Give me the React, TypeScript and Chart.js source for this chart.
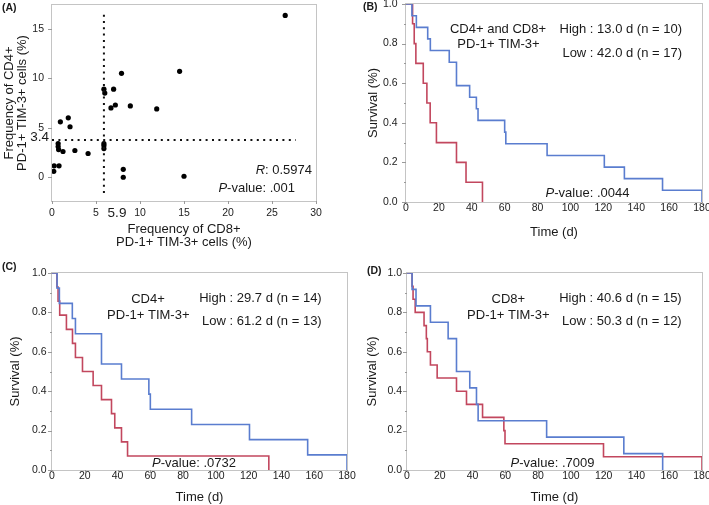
import React, { useEffect, useRef } from 'react';
import { Chart, registerables } from 'chart.js';

Chart.register(...registerables);

const FONT = "'Liberation Sans', Arial, Helvetica, sans-serif";
Chart.defaults.font.family = FONT;

const BLUE = '#5a7dcf';
const RED = '#c2475e';
const FRAME = '#c4c4c4';
const TICKC = '#9a9a9a';
const TXT = '#1a1a1a';
const TICK_SIZE = 10.5;

// ---------- Panel A: scatter ----------
const cd8Values = [26.5, 14.5, 7.9, 5.9, 6.0, 7.0, 6.7, 7.2, 8.9, 11.9, 0.95, 1.85, 2.05, 0.7, 0.7, 0.75, 1.25, 2.6, 4.1, 5.9, 5.9, 5.9, 0.25, 0.8, 0.2, 8.1, 8.1, 15.0];
const cd4Values = [16.35, 10.7, 10.5, 8.9, 8.5, 8.9, 7.0, 7.3, 7.2, 6.9, 5.6, 6.0, 5.1, 3.4, 3.1, 2.8, 2.6, 2.7, 2.4, 3.4, 3.2, 2.9, 1.15, 1.15, 0.6, 0.8, 0.0, 0.1];
const cd8Cutoff = 5.9;
const cd4CutoffLine = 3.75;
const cd8CutoffLabel = '5.9';
const cd4CutoffLabel = '3.4';
const vLineRange = [-1.6, 16.6];
const hLineRange = [0, 27.7];
const scatterXTicks = [0, 5, 10, 15, 20, 25, 30];
const scatterYTicks = [0, 5, 10, 15];
const scatterXRange = [0, 30];
const scatterYRange = [-2.4, 17.4];

// ---------- Kaplan-Meier panels ----------
const timeTicks = [0, 20, 40, 60, 80, 100, 120, 140, 160, 180];
const survMajor = [0, 0.2, 0.4, 0.6, 0.8, 1.0];
const survMinor = [0.1, 0.3, 0.5, 0.7, 0.9];

// (B) CD4+ and CD8+
const bHighTime = [0, 4, 5, 6, 10.5, 12.7, 14.7, 18.5, 30.7, 36.5, 46.5];
const bHighSurv = [1, 0.9, 0.8, 0.7, 0.6, 0.5, 0.4, 0.3, 0.2, 0.1, 0];
const bLowTime = [0, 3.6, 6.3, 13.2, 14.8, 26.3, 30.7, 38.7, 42.8, 43.8, 60, 60.7, 85.8, 120.6, 132.8, 156, 180];
const bLowSurv = [1, 0.941, 0.882, 0.824, 0.765, 0.706, 0.588, 0.529, 0.471, 0.412, 0.353, 0.294, 0.235, 0.176, 0.118, 0.059, 0];

// (C) CD4+
const cHighTime = [0, 3, 3.7, 4.7, 8.8, 12.5, 14.3, 18.6, 25.1, 30.2, 36.3, 38.3, 42.4, 46.1, 132.3];
const cHighSurv = [1, 0.929, 0.857, 0.786, 0.714, 0.643, 0.571, 0.5, 0.429, 0.357, 0.286, 0.214, 0.143, 0.071, 0];
const cLowTime = [0, 3.1, 4.5, 12.4, 14.3, 30.2, 42.4, 59.1, 60, 85.2, 120.5, 156, 180];
const cLowSurv = [1, 0.923, 0.846, 0.769, 0.692, 0.538, 0.462, 0.385, 0.308, 0.231, 0.154, 0.077, 0];

// (D) CD8+
const dHighTime = [0, 3.1, 3.7, 5, 10.4, 11.8, 12.4, 14.3, 18.4, 30.2, 36.3, 46.1, 59.1, 59.8, 119.9, 180];
const dHighSurv = [1, 0.933, 0.867, 0.8, 0.733, 0.667, 0.6, 0.533, 0.467, 0.4, 0.333, 0.267, 0.2, 0.133, 0.067, 0];
const dLowTime = [0, 3.1, 5.5, 14.3, 25.1, 30.2, 38.3, 42.4, 43.4, 85.2, 132.3, 156];
const dLowSurv = [1, 0.917, 0.833, 0.75, 0.667, 0.5, 0.417, 0.333, 0.25, 0.167, 0.083, 0];

type Part = { t: string; italic?: boolean };
type Label = { parts: Part[]; x: number; y: number; align: 'left' | 'center' | 'right'; size: number; bold?: boolean };
type Box = { left: number; top: number; right: number; bottom: number };
type Area = { l: number; t: number; r: number; b: number };

const T = (t: string, italic = false): Part => ({ t, italic });

function makeTextPlugin(items: Label[], ox: number, oy: number) {
  return {
    id: 'texts',
    afterDraw(chart: any) {
      const ctx = chart.ctx as CanvasRenderingContext2D;
      ctx.save();
      ctx.textBaseline = 'middle';
      ctx.textAlign = 'left';
      ctx.fillStyle = TXT;
      items.forEach((it) => {
        const fonts = it.parts.map((p) => `${p.italic ? 'italic ' : ''}${it.bold ? 'bold ' : ''}${it.size}px ${FONT}`);
        let total = 0;
        const widths = it.parts.map((p, i) => {
          ctx.font = fonts[i];
          const w = ctx.measureText(p.t).width;
          total += w;
          return w;
        });
        let x = it.x - ox;
        if (it.align === 'center') x -= total / 2;
        else if (it.align === 'right') x -= total;
        it.parts.forEach((p, i) => {
          ctx.font = fonts[i];
          ctx.fillText(p.t, x, it.y - oy);
          x += widths[i];
        });
      });
      ctx.restore();
    },
  };
}

function makeFramePlugin(xTicks: number[], yMajor: number[], yMinor: number[]) {
  return {
    id: 'frame',
    beforeDatasetsDraw(chart: any) {
      const { ctx, chartArea: a, scales } = chart;
      ctx.save();
      ctx.lineWidth = 1;
      ctx.strokeStyle = FRAME;
      ctx.strokeRect(Math.round(a.left) - 0.5, Math.round(a.top) - 0.5, Math.round(a.right - a.left) + 1, Math.round(a.bottom - a.top) + 1);
      ctx.strokeStyle = TICKC;
      ctx.beginPath();
      xTicks.forEach((v) => {
        const px = Math.round(scales.x.getPixelForValue(v)) + 0.5;
        ctx.moveTo(px, a.bottom);
        ctx.lineTo(px, a.bottom + 3);
      });
      yMajor.forEach((v) => {
        const py = Math.round(scales.y.getPixelForValue(v)) + 0.5;
        ctx.moveTo(a.left - 4, py);
        ctx.lineTo(a.left, py);
      });
      yMinor.forEach((v) => {
        const py = Math.round(scales.y.getPixelForValue(v)) + 0.5;
        ctx.moveTo(a.left - 2, py);
        ctx.lineTo(a.left, py);
      });
      ctx.stroke();
      ctx.restore();
    },
  };
}

type PanelSpec = {
  box: Box;
  area: Area;
  type: 'line' | 'scatter';
  datasets: any[];
  xRange: number[];
  yRange: number[];
  xTicks: number[];
  yTicks: number[];
  yMinor: number[];
  xFmt: (v: number) => string;
  yFmt: (v: number) => string;
  xTitle: string | string[];
  yTitle: string | string[];
  xTitlePad: number;
  yTitlePad: number;
  xLabelPad: number;
  yLabelPad: number;
  texts: Label[];
};

function buildConfig(s: PanelSpec): any {
  const { box, area } = s;
  return {
    type: s.type,
    data: { datasets: s.datasets },
    plugins: [makeFramePlugin(s.xTicks, s.yTicks, s.yMinor), makeTextPlugin(s.texts, box.left, box.top)],
    options: {
      responsive: false,
      animation: false,
      devicePixelRatio: 1,
      events: [],
      layout: { padding: { left: 0, bottom: 0, top: area.t - box.top, right: box.right - area.r } },
      plugins: { legend: { display: false }, tooltip: { enabled: false } },
      scales: {
        x: {
          type: 'linear',
          min: s.xRange[0],
          max: s.xRange[1],
          afterBuildTicks: (sc: any) => {
            sc.ticks = s.xTicks.map((v) => ({ value: v }));
          },
          afterFit: (sc: any) => {
            sc.height = box.bottom - area.b;
          },
          grid: { display: false, drawTicks: false },
          border: { display: false },
          ticks: { padding: s.xLabelPad, autoSkip: false, maxRotation: 0, color: '#222', font: { size: TICK_SIZE, lineHeight: 1 }, callback: (v: any) => s.xFmt(Number(v)) },
          title: { display: true, text: s.xTitle, color: TXT, font: { size: 13, lineHeight: 1 }, padding: { top: 0, bottom: s.xTitlePad } },
        },
        y: {
          type: 'linear',
          min: s.yRange[0],
          max: s.yRange[1],
          afterBuildTicks: (sc: any) => {
            sc.ticks = s.yTicks.map((v) => ({ value: v }));
          },
          afterFit: (sc: any) => {
            sc.width = area.l - box.left;
          },
          grid: { display: false, drawTicks: false },
          border: { display: false },
          ticks: { padding: s.yLabelPad, autoSkip: false, color: '#222', font: { size: TICK_SIZE, lineHeight: 1 }, callback: (v: any) => s.yFmt(Number(v)) },
          title: { display: true, text: s.yTitle, color: TXT, font: { size: 13, lineHeight: 1 }, padding: { top: s.yTitlePad, bottom: 0 } },
        },
      },
    },
  };
}

function kmSet(time: number[], surv: number[], color: string) {
  return {
    type: 'line',
    data: time.map((t, i) => ({ x: t, y: surv[i] })),
    borderColor: color,
    borderWidth: 1.6,
    pointRadius: 0,
    stepped: 'before',
    fill: false,
    tension: 0,
  };
}

function Panel({ spec }: { spec: PanelSpec }) {
  const ref = useRef<HTMLCanvasElement>(null);
  useEffect(() => {
    const chart = new Chart(ref.current as HTMLCanvasElement, buildConfig(spec));
    return () => chart.destroy();
  }, []);
  const w = spec.box.right - spec.box.left;
  const h = spec.box.bottom - spec.box.top;
  return (
    <canvas
      ref={ref}
      width={w}
      height={h}
      style={{ position: 'absolute', left: spec.box.left, top: spec.box.top, width: w, height: h }}
    />
  );
}

const fmt1 = (v: number) => v.toFixed(1);
const fmt0 = (v: number) => String(v);

const panelA: PanelSpec = {
  box: { left: 0, top: -15, right: 336, bottom: 250 },
  area: { l: 52, t: 5, r: 316, b: 201 },
  type: 'scatter',
  datasets: [
    {
      data: [{ x: cd8Cutoff, y: vLineRange[0] }, { x: cd8Cutoff, y: vLineRange[1] }],
      showLine: true,
      borderColor: '#111',
      borderWidth: 2,
      borderDash: [2, 4.3],
      pointRadius: 0,
    },
    {
      data: [{ x: hLineRange[0], y: cd4CutoffLine }, { x: hLineRange[1], y: cd4CutoffLine }],
      showLine: true,
      borderColor: '#111',
      borderWidth: 2,
      borderDash: [2, 4.4],
      pointRadius: 0,
    },
    {
      data: cd8Values.map((x, i) => ({ x, y: cd4Values[i] })),
      backgroundColor: '#000',
      borderWidth: 0,
      pointRadius: 2.6,
    },
  ],
  xRange: scatterXRange,
  yRange: scatterYRange,
  xTicks: scatterXTicks,
  yTicks: scatterYTicks,
  yMinor: [],
  xFmt: fmt0,
  yFmt: fmt0,
  xTitle: ['Frequency of CD8+', 'PD-1+ TIM-3+ cells (%)'],
  yTitle: ['Frequency of CD4+', 'PD-1+ TIM-3+ cells (%)'],
  xTitlePad: 1.5,
  yTitlePad: 3,
  xLabelPad: 7.2,
  yLabelPad: 8,
  texts: [
    { parts: [T('(A)')], x: 2, y: 8, align: 'left', size: 10.5, bold: true },
    { parts: [T(cd8CutoffLabel)], x: 117, y: 213, align: 'center', size: 13.5 },
    { parts: [T(cd4CutoffLabel)], x: 49, y: 137, align: 'right', size: 13.5 },
    { parts: [T('R', true), T(': 0.5974')], x: 312, y: 170.5, align: 'right', size: 13 },
    { parts: [T('P', true), T('-value: .001')], x: 295, y: 188, align: 'right', size: 13 },
  ],
};

function kmSpec(
  box: Box,
  area: Area,
  high: [number[], number[]],
  low: [number[], number[]],
  pads: { xT: number; yT: number; xL: number; yL: number },
  texts: Label[]
): PanelSpec {
  return {
    box,
    area,
    type: 'line',
    datasets: [kmSet(low[0], low[1], BLUE), kmSet(high[0], high[1], RED)],
    xRange: [0, 180],
    yRange: [0, 1],
    xTicks: timeTicks,
    yTicks: survMajor,
    yMinor: survMinor,
    xFmt: fmt0,
    yFmt: fmt1,
    xTitle: 'Time (d)',
    yTitle: 'Survival (%)',
    xTitlePad: pads.xT,
    yTitlePad: pads.yT,
    xLabelPad: pads.xL,
    yLabelPad: pads.yL,
    texts,
  };
}

const panelB = kmSpec(
  { left: 350, top: -16, right: 722, bottom: 250 },
  { l: 406, t: 4, r: 702, b: 202 },
  [bHighTime, bHighSurv],
  [bLowTime, bLowSurv],
  { xT: 11.5, yT: 16.5, xL: 0.5, yL: 8.5 },
  [
    { parts: [T('(B)')], x: 363, y: 7, align: 'left', size: 10.5, bold: true },
    { parts: [T('CD4+ and CD8+')], x: 498, y: 29, align: 'center', size: 13 },
    { parts: [T('PD-1+ TIM-3+')], x: 498.5, y: 44, align: 'center', size: 13 },
    { parts: [T('High : 13.0 d (n = 10)')], x: 682, y: 29, align: 'right', size: 13 },
    { parts: [T('Low : 42.0 d (n = 17)')], x: 682, y: 53, align: 'right', size: 13 },
    { parts: [T('P', true), T('-value: .0044')], x: 587.5, y: 193, align: 'center', size: 13 },
  ]
);

const panelC = kmSpec(
  { left: 0, top: 253, right: 367, bottom: 505 },
  { l: 52, t: 273, r: 347, b: 470 },
  [cHighTime, cHighSurv],
  [cLowTime, cLowSurv],
  { xT: 1.5, yT: 8.5, xL: 1.2, yL: 5.5 },
  [
    { parts: [T('(C)')], x: 2, y: 267.5, align: 'left', size: 10.5, bold: true },
    { parts: [T('CD4+')], x: 148, y: 299, align: 'center', size: 13 },
    { parts: [T('PD-1+ TIM-3+')], x: 148.3, y: 315, align: 'center', size: 13 },
    { parts: [T('High : 29.7 d (n = 14)')], x: 321.7, y: 298.3, align: 'right', size: 13 },
    { parts: [T('Low : 61.2 d (n = 13)')], x: 321.7, y: 321, align: 'right', size: 13 },
    { parts: [T('P', true), T('-value: .0732')], x: 194, y: 463.3, align: 'center', size: 13 },
  ]
);

const panelD = kmSpec(
  { left: 355, top: 253, right: 722, bottom: 505 },
  { l: 407, t: 273, r: 702, b: 470 },
  [dHighTime, dHighSurv],
  [dLowTime, dLowSurv],
  { xT: 1.5, yT: 10.5, xL: 1.2, yL: 5 },
  [
    { parts: [T('(D)')], x: 367, y: 271, align: 'left', size: 10.5, bold: true },
    { parts: [T('CD8+')], x: 508.3, y: 299.3, align: 'center', size: 13 },
    { parts: [T('PD-1+ TIM-3+')], x: 508.3, y: 315, align: 'center', size: 13 },
    { parts: [T('High : 40.6 d (n = 15)')], x: 681.7, y: 298.3, align: 'right', size: 13 },
    { parts: [T('Low : 50.3 d (n = 12)')], x: 681.7, y: 321, align: 'right', size: 13 },
    { parts: [T('P', true), T('-value: .7009')], x: 552.5, y: 463, align: 'center', size: 13 },
  ]
);

export default function App() {
  return (
    <div
      style={{
        position: 'absolute',
        left: 0,
        top: 0,
        width: 709,
        height: 505,
        overflow: 'hidden',
        background: '#fff',
      }}
    >
      <Panel spec={panelA} />
      <Panel spec={panelB} />
      <Panel spec={panelC} />
      <Panel spec={panelD} />
    </div>
  );
}
